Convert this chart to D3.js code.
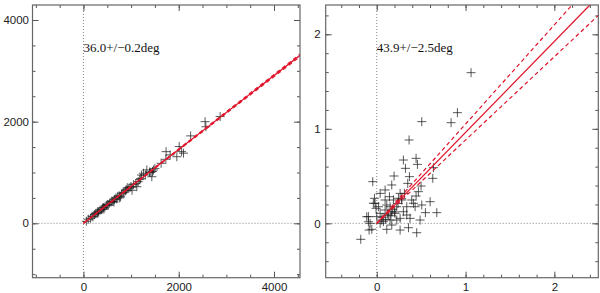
<!DOCTYPE html>
<head>
  <meta charset="utf-8">
  <script src="https://d3js.org/d3.v7.min.js"></script>
  <style type="text/css">
    body { margin: 0; background: #fff; }
    svg { display: block; }
    .tick text { font-family: "Liberation Sans", Arial, sans-serif; font-size: 11.5px; fill: #222; }
    .tick line { stroke: #555; }
    .domain { display: none; }
  </style>
</head>
<body>
<script type="text/javascript">
// left panel: counts, fit 36.0 +/- 0.2 deg
var leftX = [60,100,150,180,200,230,250,280,300,320,350,380,400,420,450,480,500,520,550,580,600,620,650,680,700,720,750,780,800,830,850,880,900,920,950,980,1000,1050,1100,1120,1150,1200,1220,1260,1300,1330,1400,1435,1450,1470,1500,1630,1730,1735,1820,1960,2010,2060,2100,2250,2553,2570,2870,640,760,1020,1180,1390,300,430];
var leftY = [40,80,100,140,130,170,190,200,230,220,260,270,300,310,320,350,370,360,400,420,440,430,470,500,480,530,540,520,580,600,610,640,660,700,690,710,720,760,780,720,820,880,950,985,950,1050,1000,917,1020,1050,1080,1180,1260,1410,1345,1310,1510,1410,1380,1720,2000,1900,2100,420,500,650,860,1010,200,280];
var leftAngle = 36.0, leftErr = 0.2;
var leftLabel = "36.0+/\u22120.2deg";

// right panel: normalised, fit 43.9 +/- 2.5 deg
var rightX = [1.062,0.908,0.837,0.507,0.364,0.300,0.443,0.323,0.458,0.638,0.631,0.195,0.368,0.499,-0.045,0.169,0.349,0.443,0.601,0.676,0.548,0.507,-0.026,-0.019,0.038,0.094,0.143,0.263,0.312,0.338,0.394,0.432,0.225,0.150,0.094,0.038,0.000,-0.094,-0.075,-0.056,-0.086,-0.180,0.113,0.263,0.357,0.450,0.375,0.488,0.263,0.150,0.075,0.131,0.206,0.056,0.038,0.169,0.225,0.338,0.413,0.282,0.244,0.188,0.094,0.019,0.113,0.169,0.300,0.469,-0.038,-0.008,-0.113,-0.094,0.060,0.120,0.180,0.240,0.200,0.100,0.160,0.280];
var rightY = [1.594,1.171,1.065,1.076,0.882,0.670,0.688,0.582,0.624,0.589,0.476,0.501,0.494,0.395,0.441,0.406,0.423,0.289,0.229,0.113,0.113,0.194,0.265,0.212,0.317,0.353,0.282,0.317,0.317,0.176,0.247,0.176,0.176,0.176,0.141,0.106,0.071,0.071,0.000,-0.063,-0.071,-0.169,-0.063,-0.071,-0.046,-0.099,0.053,0.035,0.053,0.035,0.018,0.088,0.106,0.035,0.000,-0.018,0.035,0.088,0.212,0.247,0.265,0.247,0.247,0.176,0.194,0.123,0.123,0.335,0.212,0.159,0.070,0.017,0.060,0.100,0.150,0.210,0.120,0.040,0.080,0.260];
var rightAngle = 43.9, rightErr = 2.5;
var rightLabel = "43.9+/\u22122.5deg";

var W = 600, H = 293;
var svg = d3.select("body").append("svg")
    .attr("width", W)
    .attr("height", H);

function panel(id, xs, ys, ang, err, label, box, xdom, ydom, major, minor, ypad) {
  var x = d3.scaleLinear().domain(xdom).range([box.x0, box.x1]);
  var y = d3.scaleLinear().domain(ydom).range([box.y1, box.y0]);
  var g = svg.append("g");

  g.append("clipPath").attr("id", id)
    .append("rect")
      .attr("x", box.x0).attr("y", box.y0)
      .attr("width", box.x1 - box.x0).attr("height", box.y1 - box.y0);

  var majT = d3.range(Math.ceil(xdom[0] / major) * major, xdom[1] + 1e-9, major);
  var minTx = d3.range(Math.ceil(xdom[0] / minor) * minor, xdom[1] + 1e-9, minor);
  var majTy = d3.range(Math.ceil(ydom[0] / major) * major, ydom[1] + 1e-9, major);
  var minTy = d3.range(Math.ceil(ydom[0] / minor) * minor, ydom[1] + 1e-9, minor);

  // minor ticks, all four sides, pointing inward
  g.append("g").attr("transform", "translate(0," + box.y1 + ")")
    .call(d3.axisBottom(x).tickValues(minTx).tickSize(-3).tickFormat(""));
  g.append("g").attr("transform", "translate(0," + box.y0 + ")")
    .call(d3.axisTop(x).tickValues(minTx).tickSize(-3).tickFormat(""));
  g.append("g").attr("transform", "translate(" + box.x0 + ",0)")
    .call(d3.axisLeft(y).tickValues(minTy).tickSize(-3).tickFormat(""));
  g.append("g").attr("transform", "translate(" + box.x1 + ",0)")
    .call(d3.axisRight(y).tickValues(minTy).tickSize(-3).tickFormat(""));

  // major ticks with labels
  g.append("g").attr("transform", "translate(0," + box.y1 + ")")
    .call(d3.axisBottom(x).tickValues(majT).tickSize(-6).tickPadding(5.6).tickFormat(d3.format("d")));
  g.append("g").attr("transform", "translate(0," + box.y0 + ")")
    .call(d3.axisTop(x).tickValues(majT).tickSize(-6).tickFormat(""));
  g.append("g").attr("transform", "translate(" + box.x0 + ",0)")
    .call(d3.axisLeft(y).tickValues(majTy).tickSize(-6).tickPadding(ypad).tickFormat(d3.format("d")));
  g.append("g").attr("transform", "translate(" + box.x1 + ",0)")
    .call(d3.axisRight(y).tickValues(majTy).tickSize(-6).tickFormat(""));

  // zero lines
  g.append("line")
    .attr("x1", x(0)).attr("x2", x(0)).attr("y1", box.y0).attr("y2", box.y1)
    .attr("stroke", "#666").attr("stroke-width", 0.8).attr("stroke-dasharray", "1,2");
  g.append("line")
    .attr("x1", box.x0).attr("x2", box.x1).attr("y1", y(0)).attr("y2", y(0))
    .attr("stroke", "#666").attr("stroke-width", 0.8).attr("stroke-dasharray", "1,2");

  // points
  var pts = xs.map(function(d, i) { return [d, ys[i]]; });
  g.append("g").attr("clip-path", "url(#" + id + ")")
    .selectAll("path").data(pts).enter().append("path")
      .attr("d", function(d) {
        var px = x(d[0]), py = y(d[1]);
        return "M" + (px - 4.5) + "," + py + "H" + (px + 4.5) + "M" + px + "," + (py - 4.5) + "V" + (py + 4.5);
      })
      .attr("stroke", "#1a1a1a").attr("stroke-opacity", 0.72).attr("stroke-width", 1)
      .attr("fill", "none");

  // fit lines
  var fits = [
    { a: ang, dash: null },
    { a: ang + err, dash: "4,3" },
    { a: ang - err, dash: "4,3" }
  ];
  var lg = g.append("g").attr("clip-path", "url(#" + id + ")");
  fits.forEach(function(f) {
    var s = Math.tan(f.a * Math.PI / 180);
    var xe = xdom[1] * 1.2;
    lg.append("line")
      .attr("x1", x(0)).attr("y1", y(0))
      .attr("x2", x(xe)).attr("y2", y(s * xe))
      .attr("stroke", "#e0142a")
      .attr("stroke-width", f.dash ? 1.2 : 1.3)
      .attr("stroke-dasharray", f.dash);
  });

  // frame
  g.append("rect")
    .attr("x", box.x0).attr("y", box.y0)
    .attr("width", box.x1 - box.x0).attr("height", box.y1 - box.y0)
    .attr("fill", "none").attr("stroke", "#666").attr("stroke-width", 1.2);

  g.append("text")
    .attr("x", x(0)).attr("y", 52)
    .attr("font-family", "'Liberation Serif', 'Times New Roman', serif")
    .attr("font-size", 13)
    .attr("fill", "#111")
    .text(label);
}

panel("clipL", leftX, leftY, leftAngle, leftErr, leftLabel,
  { x0: 32.5, x1: 300, y0: 5, y1: 277.7 }, [-1070, 4546], [-1070, 4295], 2000, 500, 3.5);
panel("clipR", rightX, rightY, rightAngle, rightErr, rightLabel,
  { x0: 325.7, x1: 598.3, y0: 5, y1: 277.7 }, [-0.575, 2.495], [-0.575, 2.31], 1, 0.2, 5);
</script>
</body>
